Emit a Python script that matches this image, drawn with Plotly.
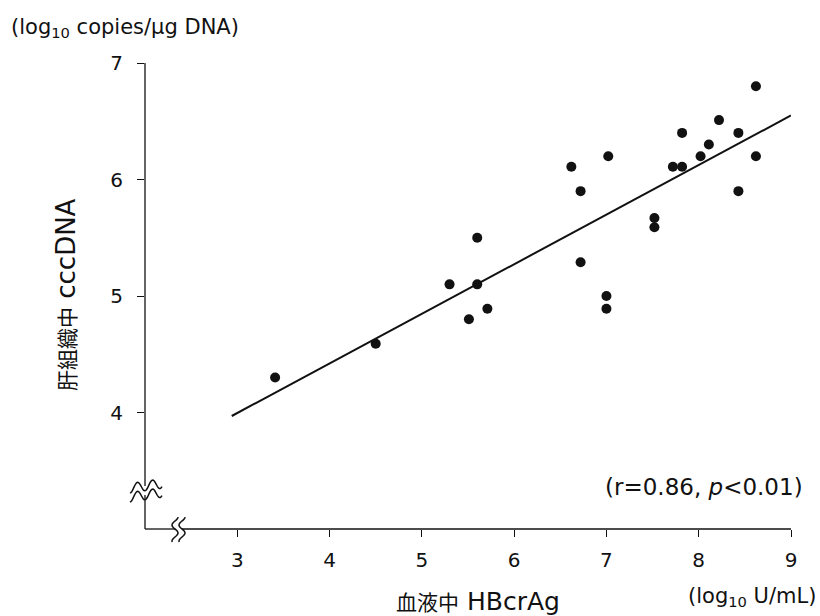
import numpy as np
import plotly.graph_objects as go

# ---- data ----
hbcrag = [3.41, 4.50, 5.30, 5.60, 5.51, 5.71, 5.60, 6.62, 6.72, 7.02, 6.72,
          7.00, 7.00, 7.52, 7.52, 7.72, 7.82, 7.82, 8.02, 8.11, 8.22, 8.43,
          8.43, 8.62, 8.62]
cccdna = [4.30, 4.59, 5.10, 5.10, 4.80, 4.89, 5.50, 6.11, 5.90, 6.20, 5.29,
          5.00, 4.89, 5.67, 5.59, 6.11, 6.11, 6.40, 6.20, 6.30, 6.51, 6.40,
          5.90, 6.80, 6.20]
fit_x = [2.94, 9.00]
fit_y = [3.97, 6.55]
x_ticks = [3, 4, 5, 6, 7, 8, 9]
y_ticks = [4, 5, 6, 7]
x_range = [2, 9]
y_range = [3, 7]

W, H = 820, 616
ML, MR, MT, MB = 145, 29, 63, 87
PW, PH = W - ML - MR, H - MT - MB

LAT = "DejaVu Sans"
CJK = "Noto Sans CJK JP"
FONT = f"{LAT}, {CJK}"
INK = "#111111"

fig = go.Figure()
fig.add_trace(go.Scatter(x=fit_x, y=fit_y, mode="lines",
                         line=dict(color=INK, width=2), hoverinfo="skip"))
fig.add_trace(go.Scatter(x=hbcrag, y=cccdna, mode="markers",
                         marker=dict(color=INK, size=10, line=dict(width=0))))

# ---- axis lines with breaks (paper coordinates, so nothing is clipped) ----
def px2paper_x(px):
    return (px - ML) / PW

def px2paper_y(py):
    return (H - MB - py) / PH

UXp, UYp = 1.0 / PW, 1.0 / PH          # paper units per pixel
ybrk = [43 * UYp, 34 * UYp]            # wave centres above the x axis
xbrk = [30 * UXp, 37 * UXp]            # wave centres right of the y axis
axl = dict(color=INK, width=1.3)
P = dict(xref="paper", yref="paper")
fig.add_shape(type="line", x0=0, x1=0, y0=1, y1=ybrk[0], line=axl, **P)
fig.add_shape(type="line", x0=0, x1=0, y0=ybrk[1], y1=0, line=axl, **P)
fig.add_shape(type="line", x0=0, x1=xbrk[0], y0=0, y1=0, line=axl, **P)
fig.add_shape(type="line", x0=xbrk[1], x1=1, y0=0, y1=0, line=axl, **P)

def path_from(px_list, py_list, ax, ay):
    pts = [(ax + a * UXp, ay - b * UYp) for a, b in zip(px_list, py_list)]
    return "M " + " L ".join(f"{a:.5f},{b:.5f}" for a, b in pts)

t = np.linspace(-15, 17, 40)
wave_y = 4.8 * np.cos(2 * np.pi * t / 15) - 0.15 * t     # screen-pixel offsets (down +)
for yc in ybrk:
    fig.add_shape(type="path", path=path_from(t, wave_y, 0, yc),
                  line=dict(color=INK, width=1.5), **P)
s = np.linspace(-12, 13, 36)
wave_x = 3.0 * np.sin(2 * np.pi * s / 16)
for xc in xbrk:
    fig.add_shape(type="path", path=path_from(wave_x, s, xc, 0),
                  line=dict(color=INK, width=1.5), **P)

# ---- texts ----
fig.add_annotation(text="(log<sub>10</sub> copies/µg DNA)", xref="paper", yref="paper",
                   x=px2paper_x(9), y=px2paper_y(28), xanchor="left", yanchor="middle",
                   showarrow=False, font=dict(family=FONT, size=21, color=INK))
fig.add_annotation(text="(log<sub>10</sub> U/mL)", xref="paper", yref="paper",
                   x=px2paper_x(818), y=px2paper_y(597), xanchor="right", yanchor="middle",
                   showarrow=False, font=dict(family=FONT, size=21, color=INK))
fig.add_annotation(text="(r=0.86, <i>p</i><0.01)", xref="paper", yref="paper",
                   x=px2paper_x(805), y=px2paper_y(487), xanchor="right", yanchor="middle",
                   showarrow=False, font=dict(family=FONT, size=23, color=INK))
fig.add_annotation(text=f"<span style='font-family:{CJK};font-size:21px'>血液中</span> HBcrAg",
                   xref="paper", yref="paper",
                   x=px2paper_x(478), y=px2paper_y(601), xanchor="center", yanchor="middle",
                   showarrow=False, font=dict(family=FONT, size=25, color=INK))
fig.add_annotation(text=f"<span style='font-family:{CJK};font-size:21px'>肝組織中</span> cccDNA",
                   xref="paper", yref="paper", textangle=-90,
                   x=px2paper_x(66), y=px2paper_y(295), xanchor="center", yanchor="middle",
                   showarrow=False, font=dict(family=FONT, size=26, color=INK))

fig.update_layout(
    width=W, height=H,
    margin=dict(l=ML, r=MR, t=MT, b=MB),
    paper_bgcolor="white", plot_bgcolor="white",
    showlegend=False,
    font=dict(family=FONT, size=20, color=INK),
    xaxis=dict(range=x_range, tickvals=x_ticks, ticks="outside", ticklen=7,
               tickwidth=1.3, tickcolor=INK, showline=False, showgrid=False,
               zeroline=False, fixedrange=True, ticklabelstandoff=6),
    yaxis=dict(range=y_range, tickvals=y_ticks, ticks="outside", ticklen=7,
               tickwidth=1.3, tickcolor=INK, showline=False, showgrid=False,
               zeroline=False, fixedrange=True, ticklabelstandoff=10),
)
fig.write_html("out.html")
